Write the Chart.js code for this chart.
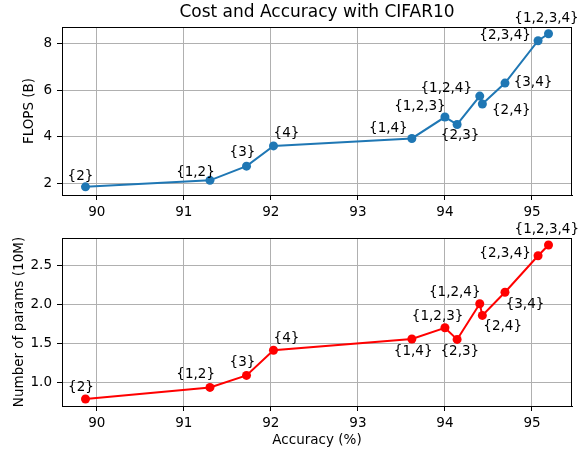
<!DOCTYPE html>
<html>
<head>
<meta charset="utf-8">
<script src="https://cdn.jsdelivr.net/npm/chart.js@4.4.1/dist/chart.umd.min.js"></script>
<style>
  body { margin: 0; background: #fff; }
  #wrap { position: relative; width: 581px; height: 453px; }
  canvas { position: absolute; left: 0; }
  #flopsChart { top: 0; }
  #paramsChart { top: 200px; }
</style>
</head>
<body>
<div id="wrap">
  <canvas id="flopsChart" width="581" height="226"></canvas>
  <canvas id="paramsChart" width="581" height="253"></canvas>
</div>
<script>
const configs = ['{2}', '{1,2}', '{3}', '{4}', '{1,4}', '{1,2,3}', '{2,3}', '{1,2,4}', '{2,4}', '{3,4}', '{2,3,4}', '{1,2,3,4}'];
const accuracy = [89.87, 91.30, 91.72, 92.03, 93.62, 94.00, 94.14, 94.40, 94.43, 94.69, 95.07, 95.19];
const flops = [1.85, 2.13, 2.74, 3.61, 3.93, 4.85, 4.53, 5.75, 5.41, 6.31, 8.13, 8.43];
const params = [0.78, 0.93, 1.085, 1.41, 1.555, 1.70, 1.55, 2.01, 1.86, 2.16, 2.63, 2.77];

const xTicks = [90, 91, 92, 93, 94, 95];
const flopsTicks = [2, 4, 6, 8];
const paramsTicks = [1.0, 1.5, 2.0, 2.5];

const FONT = "'DejaVu Sans', sans-serif";
const GRID = '#b0b0b0';

// label offsets (px) from each marker, picked by eye
const flopsLabelOffsets = [[-5, -10], [-14.5, -8], [-4, -13.5], [13, -12], [-23.5, -10], [-25, -11],
  [3, 11], [-33.5, -8], [29, 6], [28, -0.5], [-33, -5.5], [-2, -15]];
const paramsLabelOffsets = [[-4.5, -12], [-14.3, -13], [-4, -12.7], [13, -12], [1.3, 12.7], [-7.3, -11.3],
  [2.7, 12.3], [-25, -11], [20.3, 11.3], [20, 12], [-33, -2], [-1.7, -15.7]];

const pointLabels = {
  id: 'pointLabels',
  afterDatasetsDraw(chart, args, opts) {
    const ctx = chart.ctx;
    const meta = chart.getDatasetMeta(0);
    ctx.save();
    ctx.font = '13.5px ' + FONT;
    ctx.fillStyle = '#000';
    ctx.textAlign = 'center';
    ctx.textBaseline = 'middle';
    meta.data.forEach((pt, i) => {
      const [dx, dy] = opts.offsets[i];
      ctx.fillText(configs[i], pt.x + dx, pt.y + dy);
    });
    ctx.restore();
  }
};

// matplotlib style box round the axes
const frame = {
  id: 'frame',
  beforeDatasetsDraw(chart) {
    const { ctx, chartArea: a } = chart;
    ctx.save();
    ctx.strokeStyle = '#000';
    ctx.lineWidth = 1;
    ctx.strokeRect(a.left + 0.5, a.top + 0.5, a.right - a.left - 1, a.bottom - a.top);
    ctx.restore();
  }
};

function makeChart(id, values, color, yTicks, yMin, yMax, yTitle, yTitlePad, offsets, opts) {
  const x = {
    type: 'linear',
    min: 89.6,
    max: 95.46,
    afterBuildTicks: s => { s.ticks = xTicks.map(v => ({ value: v })); },
    afterFit: s => { s.height = opts.xHeight; },
    grid: { color: GRID, tickColor: '#000', tickLength: 5, lineWidth: 1 },
    border: { color: '#000' },
    ticks: { color: '#000', font: { family: FONT, size: 13.5 }, padding: 4, maxRotation: 0 },
    title: opts.xTitle ? {
      display: true, text: opts.xTitle, color: '#000',
      font: { family: FONT, size: 13.5 }, padding: { top: 0, bottom: 4 }
    } : { display: false }
  };
  const scales = {
    x: x,
    y: {
      type: 'linear',
      min: yMin,
      max: yMax,
      afterBuildTicks: s => { s.ticks = yTicks.map(v => ({ value: v })); },
      afterFit: s => { s.width = 62; },
      grid: { color: GRID, tickColor: '#000', tickLength: 5, lineWidth: 1 },
      border: { color: '#000' },
      ticks: {
        color: '#000', font: { family: FONT, size: 13.5 }, padding: 5,
        callback: v => opts.yFixed ? v.toFixed(1) : v
      },
      title: {
        display: true, text: yTitle, color: '#000',
        font: { family: FONT, size: 13.5 }, padding: { top: yTitlePad, bottom: 0 }
      }
    }
  };
  if (opts.title) {
    scales.x2 = {
      type: 'linear',
      position: 'top',
      min: 89.6,
      max: 95.46,
      afterFit: s => { s.height = 27; },
      grid: { display: false },
      border: { display: false },
      ticks: { display: false },
      title: {
        display: true, text: opts.title, color: '#000',
        font: { family: FONT, size: 17 }, padding: { top: 2, bottom: 0 }
      }
    };
  }
  return new Chart(document.getElementById(id), {
    type: 'line',
    data: {
      datasets: [{
        data: accuracy.map((a, i) => ({ x: a, y: values[i] })),
        borderColor: color,
        backgroundColor: color,
        borderWidth: 2,
        pointRadius: 4.5,
        pointBorderWidth: 0,
        pointBackgroundColor: color,
        tension: 0
      }]
    },
    options: {
      responsive: false,
      animation: false,
      devicePixelRatio: 1,
      layout: { padding: { left: 0, right: 9, top: opts.padTop, bottom: 0 } },
      scales: scales,
      plugins: {
        legend: { display: false },
        tooltip: { enabled: false },
        pointLabels: { offsets: offsets }
      }
    },
    plugins: [frame, pointLabels]
  });
}

makeChart('flopsChart', flops, '#1f77b4', flopsTicks, 1.5, 8.72, 'FLOPS (B)', 21, flopsLabelOffsets,
  { xHeight: 31, padTop: 0, title: 'Cost and Accuracy with CIFAR10', yFixed: false });
makeChart('paramsChart', params, '#ff0000', paramsTicks, 0.69, 2.86, 'Number of params (10M)', 11, paramsLabelOffsets,
  { xHeight: 47, padTop: 38, xTitle: 'Accuracy (%)', yFixed: true });
</script>
</body>
</html>
